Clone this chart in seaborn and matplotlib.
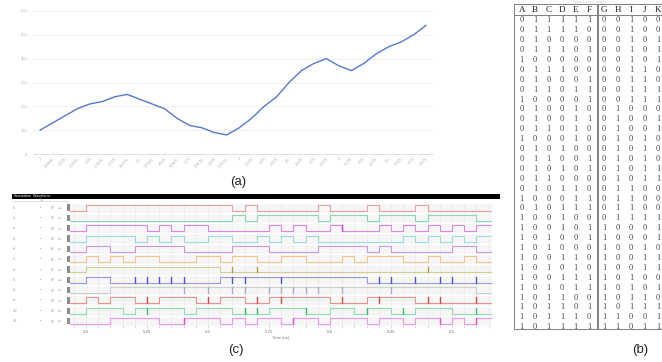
import matplotlib
matplotlib.use("Agg")
import numpy as np
import pandas as pd
import matplotlib.pyplot as plt
import seaborn as sns

sns.set_theme(style="white")
plt.rcParams['font.family'] = ['Liberation Sans', 'DejaVu Sans']

W, H = 662, 362

# ---------------------------------------------------------------------------
# (a) line chart data
# ---------------------------------------------------------------------------
x_labels = ['1', '1.0625', '1.125', '1.1875', '1.25', '1.3125', '1.375', '1.4375',
            '1.5', '1.5625', '1.625', '1.6875', '1.75', '1.8125', '1.875', '1.9375',
            '2', '2.125', '2.25', '2.375', '2.5', '2.625', '2.75', '2.875',
            '3', '3.125', '3.25', '3.375', '3.5', '3.625', '3.75', '3.875']
line_values = [100, 130, 160, 190, 210, 220, 240, 250, 230, 210, 190, 150, 120, 110, 90, 80,
               110, 150, 200, 240, 300, 350, 380, 400, 370, 350, 380, 420, 450, 470, 500, 540]
y_ticks = [0, 100, 200, 300, 400, 500, 600]

# ---------------------------------------------------------------------------
# (b) truth table (columns A-F | G-J, then a narrow K column at the edge)
# ---------------------------------------------------------------------------
table_cols = ['A', 'B', 'C', 'D', 'E', 'F', 'G', 'H', 'I', 'J', 'K']
table_rows = [
    "01111100100", "01111000100", "01000000101", "01110100101",
    "10000000101", "01110000110", "01000100110", "01101100111",
    "10000100111", "01001001000", "01001101001", "01101001001",
    "10001001010", "01010001010", "01100101010", "01010101011",
    "01100001011", "01011001100", "10001101100", "01011101100",
    "10010001111", "10010110001", "10100110001", "10100010010",
    "10011010011", "10101010011", "10011110100", "10101110101",
    "10110010110", "10110110111", "10111011001", "10111111011",
]

# ---------------------------------------------------------------------------
# (c) waveform data: toggle instants and glitch spikes, in clock ticks
#     (tick k  ->  time 5.0 + 0.05 * k ns)
# ---------------------------------------------------------------------------
wave_toggles = [
    [0, 12, 13, 14, 19, 20, 23, 24, 27, 28],
    [12, 13, 14, 19, 20, 23, 24, 27, 28, 32],
    [0, 5, 6, 7, 8, 10, 15, 16, 17, 18, 20, 21, 24, 25, 26, 27, 28, 29, 30, 31, 32],
    [0, 4, 5, 6, 7, 8, 10, 12, 14, 15, 16, 17, 18, 19, 26, 27, 28, 29, 30, 31, 32],
    [0, 2, 4, 8, 12, 15, 19, 23, 24, 25, 30, 32],
    [0, 1, 2, 3, 4, 6, 9, 11, 12, 14, 16, 18, 21, 22, 23, 26, 28, 29, 31, 32],
    [0, 11],
    [0, 2, 11, 23],
    [2, 32],
    [0, 1, 2, 4, 6, 9, 11, 13, 15, 20, 23, 27],
    [0, 3, 4, 8, 9, 12, 15, 18, 20, 22, 23, 25, 27, 30],
    [2, 6, 8, 11, 12, 13, 14, 16, 17, 19, 20, 23, 24, 26, 27, 29, 30, 31, 32],
]
wave_spikes = [
    [], [], [21], [], [], [],
    [12, 14, 28],
    [4, 5, 6, 7, 8, 12, 13, 16, 24, 25, 27, 29, 30, 32],
    [8, 10, 12, 13, 15, 16, 17, 18, 19, 21, 25],
    [5, 10, 14, 16, 21, 24, 28, 29, 32],
    [5, 13, 14, 18, 23, 26, 32],
    [8, 17, 29, 32],
]
wave_colors = ['#eaa0a0', '#88d8bc', '#dc88e8', '#98dede', '#cc98e6', '#f2c48c',
               '#d2ce98', '#9898ea', '#cfcfdc', '#ec9090', '#8ce0b0', '#ec98ec']
spike_colors = ['#d86060', '#40b888', '#c040d8', '#50c0c0', '#a060d0', '#e09a40',
                '#a8a040', '#5050d8', '#a8a8c0', '#d84848', '#30c070', '#d850d8']
time_ticks = [5.0, 5.25, 5.5, 5.75, 6.0, 6.25, 6.5]
T0, TICK = 5.0, 0.05


def px_rect(x0, y0, x1, y1):
    return [x0 / W, 1 - y1 / H, (x1 - x0) / W, (y1 - y0) / H]


fig = plt.figure(figsize=(W / 100, H / 100), dpi=100)
fig.patch.set_facecolor('white')

ov = fig.add_axes([0, 0, 1, 1])
ov.set_xlim(0, W)
ov.set_ylim(H, 0)
ov.axis('off')

# ============================ (a) ==========================================
ax_a = fig.add_axes(px_rect(33, 11, 433, 154))
df_a = pd.DataFrame({'pos': np.arange(len(line_values)), 'value': line_values})
sns.lineplot(data=df_a, x='pos', y='value', ax=ax_a, color='#5678d2', linewidth=1.0)
ax_a.set_xlim(-0.56, len(line_values) - 0.44)
ax_a.set_ylim(0, 600)
ax_a.set_yticks(y_ticks)
ax_a.set_yticklabels([str(v) for v in y_ticks])
ax_a.set_xticks(df_a['pos'])
ax_a.set_xticklabels(x_labels, rotation=45, ha='right', rotation_mode='anchor')
ax_a.tick_params(axis='both', length=0, labelsize=3, labelcolor='#b0b0b0')
ax_a.tick_params(axis='y', pad=4)
ax_a.tick_params(axis='x', pad=2)
ax_a.yaxis.grid(True, color='#ececec', linewidth=0.6)
ax_a.xaxis.grid(False)
for side in ['top', 'right', 'left']:
    ax_a.spines[side].set_visible(False)
ax_a.spines['bottom'].set_color('#dadada')
ax_a.spines['bottom'].set_linewidth(0.6)
ax_a.set_xlabel('')
ax_a.set_ylabel('')
ax_a.set_facecolor('none')

# ============================ (b) ==========================================
TX0, TSTEP, TGAP = 521.7, 13.5, 1.5
RY0, RSTEP, HY = 20.3, 9.9, 10.5
tab_top, tab_head, tab_bot = 4.3, 15.2, 329.0
line_kw = dict(color='#808080', linewidth=0.7)
ov.plot([514, W], [tab_top, tab_top], **line_kw)
ov.plot([514, W], [tab_head, tab_head], **line_kw)
ov.plot([514, W], [tab_bot, tab_bot], **line_kw)
ov.plot([514, 514], [tab_top, tab_bot], **line_kw)
ov.plot([596.6, 596.6], [tab_top, tab_bot], **line_kw)
ov.plot([598.3, 598.3], [tab_top, tab_bot], **line_kw)
ov.text(590, 2.4, 'Table I: input vectors', fontsize=2.6, color='#c8c8c8',
        ha='center', va='center')
for c, name in enumerate(table_cols):
    cx = TX0 + TSTEP * c + (TGAP if c >= 6 else 0)
    ov.text(cx, HY, name, family=['Liberation Serif', 'DejaVu Serif'], fontsize=6.5,
            color='#1a1a1a', ha='center', va='center')
    for r, row in enumerate(table_rows):
        ov.text(cx, RY0 + RSTEP * r, row[c], family=['Liberation Serif', 'DejaVu Serif'],
                fontsize=6, color='#454545', ha='center', va='center')

# ============================ (c) ==========================================
cx0, cx1, cy0, cy1 = 70, 492, 202.5, 326.2
px_per_tick = 12.2
t_left = T0 + TICK * (cx0 - 86) / px_per_tick
t_right = T0 + TICK * (cx1 - 86) / px_per_tick
n_rows = len(wave_toggles)
row_pitch = (cy1 - cy0) / n_rows

# header bar and label column
ov.add_patch(plt.Rectangle((12, 193.5), 488, 5, color='black', linewidth=0))
ov.text(14, 196, 'Simulation  Waveform', fontsize=2.6, color='white', va='center')
ov.plot([12, 68], [200.6, 200.6], color='#c8c8c8', linewidth=0.4)
ov.text(40, 200.2, 'Cu', fontsize=2.2, color='#999999', va='center')
for i in range(n_rows):
    yc = cy0 + row_pitch * (i + 0.5)
    ov.text(12.5, yc, 's%d' % i, fontsize=2.2, color='#a0a0a0', va='center')
    ov.text(40, yc, '\u25aa', fontsize=2.6, color='#8aa0d0', va='center')
    ov.text(51, yc, 'SIG\nOR\nbin', fontsize=1.7, color='#9a9a9a', va='center',
            linespacing=1.0)
    ov.text(58, yc, "0_1\n1'b0", fontsize=1.7, color='#9a9a9a', va='center',
            linespacing=1.0)
    ov.add_patch(plt.Rectangle((67.4, yc - 3.2), 2.2, 6.4, color='#8c8c8c', linewidth=0))

ax_c = fig.add_axes(px_rect(cx0, cy0, cx1, cy1))
ax_c.set_facecolor('#f6f6f6')
ax_c.set_xlim(t_left, t_right)
ax_c.set_ylim(n_rows - 0.5, -0.5)
minor = T0 + TICK * np.arange(-1, 34)
for t in minor:
    ax_c.axvline(t, color='#e6e6e6', linewidth=0.5, zorder=0)
for i in range(n_rows + 1):
    ax_c.axhline(i - 0.5, color='white', linewidth=1.0, zorder=0)

amp = 0.29
for i, toggles in enumerate(wave_toggles):
    times = [t_left] + [T0 + TICK * k for k in toggles] + [t_right]
    levels = [(j % 2) for j in range(len(toggles) + 1)]
    levels = levels + [levels[-1]]
    ys = [i + amp - 2 * amp * lv for lv in levels]
    df_w = pd.DataFrame({'t': times, 'y': ys})
    sns.lineplot(data=df_w, x='t', y='y', ax=ax_c, color=wave_colors[i], linewidth=0.8,
                 drawstyle='steps-post', estimator=None, sort=False)
    for k in wave_spikes[i]:
        ts = T0 + TICK * k
        ax_c.plot([ts, ts], [i - amp, i + amp], color=spike_colors[i], linewidth=1.0)

ax_c.set_xticks(time_ticks)
ax_c.set_xticklabels(['%g' % t if t % 0.5 else '%.1f' % t for t in time_ticks])
ax_c.set_xticks(minor, minor=True)
ax_c.set_yticks([])
ax_c.tick_params(axis='x', which='both', length=1.5, width=0.4, color='#aaaaaa',
                 labelsize=3.2, labelcolor='#777777', pad=1.5, bottom=True)
for side in ['top', 'right', 'left', 'bottom']:
    ax_c.spines[side].set_visible(False)
ax_c.set_xlabel('Time (ns)', fontsize=3, color='#777777', labelpad=1)
ax_c.set_ylabel('')

# ============================ captions =====================================
for txt, (x, y) in [('(a)', (238, 182)), ('(b)', (640, 350)), ('(c)', (236, 350))]:
    ov.text(x, y, txt, fontsize=9.5, color='#222222', ha='center', va='center')

fig.savefig('out.png', dpi=100, facecolor='white')
